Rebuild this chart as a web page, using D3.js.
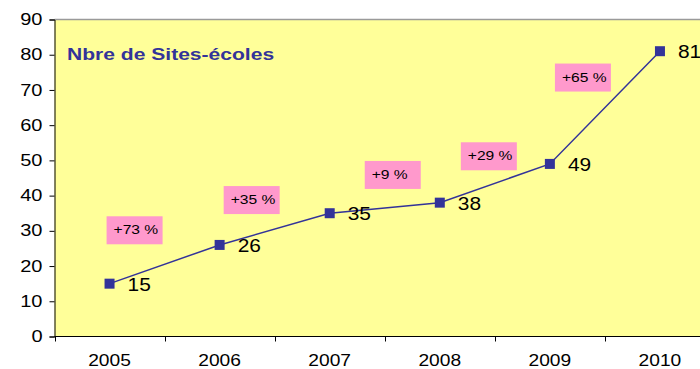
<!DOCTYPE html>
<html>
<head>
<meta charset="utf-8">
<script src="https://cdn.jsdelivr.net/npm/d3@7"></script>
<style>
  body { margin: 0; background: #fff; }
  svg { display: block; font-family: "Liberation Sans", Arial, sans-serif; }
</style>
</head>
<body>
<svg id="graph" width="700" height="369"></svg>
<script>
var years = ["2005", "2006", "2007", "2008", "2009", "2010"];
var sites = [15, 26, 35, 38, 49, 81];
var yTicks = [0, 10, 20, 30, 40, 50, 60, 70, 80, 90];
var title = "Nbre de Sites-écoles";

// where each growth box sits, relative to the midpoint of its segment
var boxShift = [[-30, -34], [-23, -29], [8, -33], [-6, -27], [-22, -30]];

var svg = d3.select("svg"),
    plotLeft = 54.5, plotTop = 19.5, plotBottom = 336.5, plotRight = 715;

var x = d3.scaleBand().domain(years).range([plotLeft, plotRight]);
var y = d3.scaleLinear().domain([0, 90]).range([plotBottom, plotTop]);
var cx = function(d, i) { return x(years[i]) + x.bandwidth() / 2; };

// plot background
svg.append("rect")
  .attr("x", plotLeft).attr("y", plotTop)
  .attr("width", plotRight - plotLeft).attr("height", plotBottom - plotTop)
  .attr("fill", "#ffff99");
svg.append("line")
  .attr("x1", plotLeft).attr("x2", 700).attr("y1", plotTop).attr("y2", plotTop)
  .attr("stroke", "#9a9a9a").attr("stroke-width", 1.5);

// y axis
var yAxis = svg.append("g")
  .attr("transform", "translate(" + plotLeft + ",0)")
  .call(d3.axisLeft(y).tickValues(yTicks).tickSize(5).tickPadding(6));
yAxis.select(".domain").attr("stroke", "#000");
yAxis.selectAll(".tick line").attr("stroke", "#000");
yAxis.selectAll("text")
  .attr("font-size", 16).attr("fill", "#000")
  .attr("font-family", "Liberation Sans, Arial")
  .attr("transform", "scale(1.25,1)")
  .attr("x", -12 / 1.25);

// x axis with ticks between categories
var xg = svg.append("g").attr("transform", "translate(0," + plotBottom + ")");
xg.append("line").attr("x1", plotLeft).attr("x2", 700).attr("stroke", "#000");
xg.selectAll("line.tk")
  .data(years)
  .enter().append("line")
  .attr("class", "tk")
  .attr("x1", function(d) { return Math.round(x(d)) + 0.5; })
  .attr("x2", function(d) { return Math.round(x(d)) + 0.5; })
  .attr("y1", 0).attr("y2", 5)
  .attr("stroke", "#000");
xg.selectAll("text")
  .data(years)
  .enter().append("text")
  .attr("text-anchor", "middle")
  .attr("font-size", 16)
  .attr("transform", function(d, i) { return "translate(" + cx(d, i) + ",29) scale(1.2,1)"; })
  .text(function(d) { return d; });

// title
svg.append("text")
  .attr("transform", "translate(67,60) scale(1.24,1)")
  .attr("font-size", 17).attr("font-weight", "bold")
  .attr("fill", "#333399")
  .text(title);

// growth boxes
var growth = sites.slice(1).map(function(v, i) {
  return "+" + Math.round((v / sites[i] - 1) * 100) + " %";
});
var boxes = svg.append("g").selectAll("g")
  .data(growth)
  .enter().append("g")
  .attr("transform", function(d, i) {
    var mx = (cx(null, i) + cx(null, i + 1)) / 2 + boxShift[i][0];
    var my = y((sites[i] + sites[i + 1]) / 2) + boxShift[i][1];
    return "translate(" + mx + "," + my + ")";
  });
boxes.append("rect")
  .attr("x", -28).attr("y", -14).attr("width", 56).attr("height", 28)
  .attr("fill", "#ff99cc");
boxes.append("text")
  .attr("transform", "translate(-21,4) scale(1.2,1)")
  .attr("font-size", 13)
  .text(function(d) { return d; });

// line + markers
var line = d3.line().x(function(d, i) { return cx(d, i); }).y(function(d) { return y(d); });
svg.append("path")
  .datum(sites)
  .attr("d", line)
  .attr("fill", "none")
  .attr("stroke", "#333399")
  .attr("stroke-width", 1.5);
svg.append("g").selectAll("rect")
  .data(sites)
  .enter().append("rect")
  .attr("x", function(d, i) { return cx(d, i) - 5; })
  .attr("y", function(d) { return y(d) - 5; })
  .attr("width", 10).attr("height", 10)
  .attr("fill", "#333399");

// value labels
svg.append("g").selectAll("text")
  .data(sites)
  .enter().append("text")
  .attr("transform", function(d, i) { return "translate(" + (cx(d, i) + 18) + "," + (y(d) + 7) + ") scale(1.1,1)"; })
  .attr("font-size", 19)
  .text(function(d) { return d; });
</script>
</body>
</html>
